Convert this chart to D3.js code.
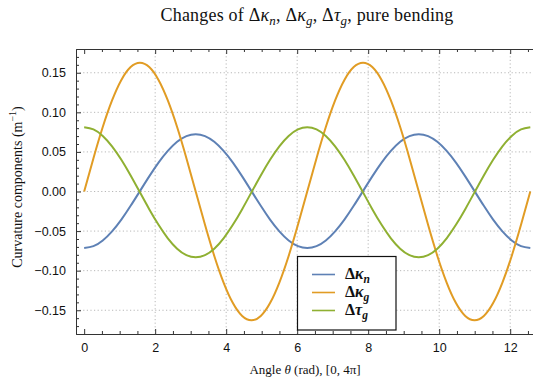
<!DOCTYPE html>
<html>
<head>
<meta charset="utf-8">
<script src="https://cdn.jsdelivr.net/npm/d3@7"></script>
<style>
  body { margin: 0; background: #fff; }
  svg { display: block; }
  .tick text { font-family: "Liberation Sans", Arial, sans-serif; font-size: 12.5px; fill: #111; }
  .serif { font-family: "Liberation Serif", "Times New Roman", serif; fill: #111; }
</style>
</head>
<body>
<svg id="chart" width="533" height="383"></svg>
<script>
// angle samples, 0 .. 4π (step π/12)
const theta = [0, 0.2618, 0.5236, 0.7854, 1.0472, 1.3090, 1.5708, 1.8326, 2.0944, 2.3562, 2.6180, 2.8798,
  3.1416, 3.4034, 3.6652, 3.9270, 4.1888, 4.4506, 4.7124, 4.9742, 5.2360, 5.4978, 5.7596, 6.0214,
  6.2832, 6.5450, 6.8068, 7.0686, 7.3304, 7.5922, 7.8540, 8.1158, 8.3776, 8.6394, 8.9012, 9.1630,
  9.4248, 9.6866, 9.9484, 10.2102, 10.4720, 10.7338, 10.9956, 11.2574, 11.5192, 11.7810, 12.0428, 12.3046,
  12.5664];

const dKappaN = [-0.0714, -0.0690, -0.0618, -0.0503, -0.0355, -0.0181, 0.0005, 0.0191, 0.0365, 0.0513, 0.0628, 0.0700,
  0.0724, 0.0700, 0.0628, 0.0513, 0.0365, 0.0191, 0.0005, -0.0181, -0.0355, -0.0503, -0.0618, -0.0690,
  -0.0714, -0.0690, -0.0618, -0.0503, -0.0355, -0.0181, 0.0005, 0.0191, 0.0365, 0.0513, 0.0628, 0.0700,
  0.0724, 0.0700, 0.0628, 0.0513, 0.0365, 0.0191, 0.0005, -0.0181, -0.0355, -0.0503, -0.0618, -0.0690,
  -0.0714];

const dKappaG = [0, 0.0421, 0.0814, 0.1150, 0.1409, 0.1572, 0.1627, 0.1572, 0.1409, 0.1150, 0.0814, 0.0421,
  0, -0.0421, -0.0814, -0.1150, -0.1409, -0.1572, -0.1627, -0.1572, -0.1409, -0.1150, -0.0814, -0.0421,
  0, 0.0421, 0.0814, 0.1150, 0.1409, 0.1572, 0.1627, 0.1572, 0.1409, 0.1150, 0.0814, 0.0421,
  0, -0.0421, -0.0814, -0.1150, -0.1409, -0.1572, -0.1627, -0.1572, -0.1409, -0.1150, -0.0814, -0.0421,
  0];

const dTauG = [0.0812, 0.0784, 0.0702, 0.0571, 0.0401, 0.0203, -0.0010, -0.0223, -0.0421, -0.0591, -0.0722, -0.0804,
  -0.0832, -0.0804, -0.0722, -0.0591, -0.0421, -0.0223, -0.0010, 0.0203, 0.0401, 0.0571, 0.0702, 0.0784,
  0.0812, 0.0784, 0.0702, 0.0571, 0.0401, 0.0203, -0.0010, -0.0223, -0.0421, -0.0591, -0.0722, -0.0804,
  -0.0832, -0.0804, -0.0722, -0.0591, -0.0421, -0.0223, -0.0010, 0.0203, 0.0401, 0.0571, 0.0702, 0.0784,
  0.0812];

const xTicks = [0, 2, 4, 6, 8, 10, 12];
const yTicks = [-0.15, -0.10, -0.05, 0, 0.05, 0.10, 0.15];

const series = [
  { sym: "κ", sub: "n", values: dKappaN, color: "#5e81b5" },
  { sym: "κ", sub: "g", values: dKappaG, color: "#e19c24" },
  { sym: "τ", sub: "g", values: dTauG, color: "#8fb032" }
];

const svg = d3.select("#chart");
const plotLeft = 76, plotTop = 49, plotBottom = 334, plotRight = 538.6;

const x = d3.scaleLinear().domain([-0.23, 12.8]).range([plotLeft, plotRight]);
const y = d3.scaleLinear().domain([-0.18, 0.18]).range([plotBottom, plotTop]);

// grid
const grid = svg.append("g")
  .attr("stroke", "#b8b8b8")
  .attr("stroke-width", 1)
  .attr("stroke-dasharray", "1.2,2.4");
grid.selectAll("line.gx")
  .data(xTicks.filter(d => d !== 0))
  .enter().append("line")
  .attr("x1", d => x(d)).attr("x2", d => x(d))
  .attr("y1", plotTop).attr("y2", plotBottom);
grid.selectAll("line.gy")
  .data(yTicks)
  .enter().append("line")
  .attr("x1", plotLeft).attr("x2", plotRight)
  .attr("y1", d => y(d)).attr("y2", d => y(d));

// frame + ticks
const minorX = d3.range(0, 12.6, 0.5).filter(d => d % 2 !== 0);
const minorY = d3.range(-17, 18).map(d => d / 100).filter(d => Math.round(d * 100) % 5 !== 0);
const fmtY = d => d3.format(".2f")(d).replace("-", "\u2212");

function styleAxis(g) {
  g.select(".domain").attr("stroke", "#333");
  g.selectAll(".tick line").attr("stroke", "#333");
}

svg.append("g").attr("transform", `translate(0,${plotBottom})`)
  .call(d3.axisBottom(x).tickValues(xTicks).tickSize(-5).tickPadding(9).tickSizeOuter(0))
  .call(styleAxis);
svg.append("g").attr("transform", `translate(0,${plotBottom})`)
  .call(d3.axisBottom(x).tickValues(minorX).tickSize(-3).tickFormat("").tickSizeOuter(0))
  .call(styleAxis);
svg.append("g").attr("transform", `translate(0,${plotTop})`)
  .call(d3.axisTop(x).tickValues(xTicks).tickSize(-5).tickFormat("").tickSizeOuter(0))
  .call(styleAxis);
svg.append("g").attr("transform", `translate(0,${plotTop})`)
  .call(d3.axisTop(x).tickValues(minorX).tickSize(-3).tickFormat("").tickSizeOuter(0))
  .call(styleAxis);
svg.append("g").attr("transform", `translate(${plotLeft},0)`)
  .call(d3.axisLeft(y).tickValues(yTicks).tickSize(-5).tickPadding(10).tickFormat(fmtY).tickSizeOuter(0))
  .call(styleAxis);
svg.append("g").attr("transform", `translate(${plotLeft},0)`)
  .call(d3.axisLeft(y).tickValues(minorY).tickSize(-3).tickFormat("").tickSizeOuter(0))
  .call(styleAxis);

// curves
const line = d3.line()
  .x((d, i) => x(theta[i]))
  .y(d => y(d))
  .curve(d3.curveNatural);

svg.append("g").selectAll("path")
  .data(series)
  .enter().append("path")
  .attr("d", d => line(d.values))
  .attr("fill", "none")
  .attr("stroke", d => d.color)
  .attr("stroke-width", 2);

// math label: Δ + italic symbol + lowered italic subscript; returns the drop to undo
function mathLabel(t, s, size) {
  const drop = size * 0.22;
  t.append("tspan").text("Δ");
  t.append("tspan").attr("font-style", "italic").text(s.sym);
  t.append("tspan").attr("font-style", "italic").attr("font-size", size * 0.72)
    .attr("dy", drop).text(s.sub);
  return drop;
}

// title
const titleSize = 18;
const title = svg.append("text").attr("class", "serif")
  .attr("x", 307).attr("y", 21).attr("text-anchor", "middle")
  .attr("font-size", titleSize).attr("letter-spacing", 0.2);
title.append("tspan").text("Changes of ");
series.forEach(s => {
  const drop = mathLabel(title, s, titleSize);
  title.append("tspan").attr("dy", -drop).text(", ");
});
title.append("tspan").text("pure bending");

// axis labels
svg.append("text").attr("class", "serif")
  .attr("transform", "translate(22,187) rotate(-90)")
  .attr("text-anchor", "middle").attr("font-size", 14)
  .call(t => {
    t.append("tspan").text("Curvature components (m");
    t.append("tspan").attr("font-size", 10).attr("dy", -6).text("\u22121");
    t.append("tspan").attr("dy", 6).text(")");
  });

svg.append("text").attr("class", "serif")
  .attr("x", 305).attr("y", 374).attr("text-anchor", "middle").attr("font-size", 13)
  .call(t => {
    t.append("tspan").text("Angle ");
    t.append("tspan").attr("font-style", "italic").text("θ");
    t.append("tspan").text(" (rad), [0, 4π]");
  });

// legend
const legend = svg.append("g");
legend.append("rect")
  .attr("x", 297.5).attr("y", 256.5).attr("width", 98.5).attr("height", 73.5)
  .attr("fill", "#fff").attr("stroke", "#111").attr("stroke-width", 1.2);
const rows = [274.5, 292.5, 310.5];
series.forEach((s, i) => {
  legend.append("line")
    .attr("x1", 312).attr("x2", 335).attr("y1", rows[i]).attr("y2", rows[i])
    .attr("stroke", s.color).attr("stroke-width", 1.6);
  const t = legend.append("text").attr("class", "serif")
    .attr("x", 345).attr("y", rows[i] + 4.5).attr("font-size", 16).attr("font-weight", "bold");
  mathLabel(t, s, 16);
});
</script>
</body>
</html>
